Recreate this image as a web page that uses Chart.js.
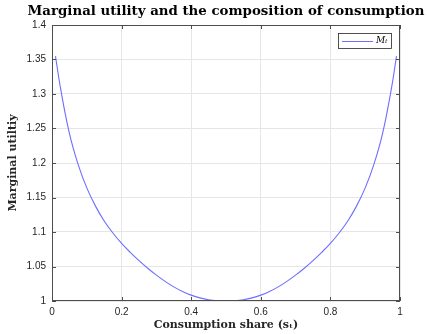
<!DOCTYPE html>
<html>
<head>
<meta charset="utf-8">
<script src="https://cdn.jsdelivr.net/npm/chart.js@4/dist/chart.umd.min.js"></script>
<style>
  html, body { margin: 0; padding: 0; background: #fff; }
  #wrap { width: 427px; height: 334px; }
</style>
</head>
<body>
<div id="wrap"><canvas id="myChart" width="427" height="334"></canvas></div>
<script>
const ctx = document.getElementById("myChart");

// consumption share s_t and marginal utility M_t
const shareVals = [0.01, 0.025, 0.05, 0.075, 0.1, 0.125, 0.15, 0.175, 0.2, 0.225, 0.25, 0.275, 0.3, 0.325,
                   0.35, 0.375, 0.4, 0.425, 0.45, 0.475, 0.5, 0.525, 0.55, 0.575, 0.6, 0.625, 0.65, 0.675,
                   0.7, 0.725, 0.75, 0.775, 0.8, 0.825, 0.85, 0.875, 0.9, 0.925, 0.95, 0.975, 0.99];
const muVals = [1.355, 1.307, 1.243, 1.198, 1.164, 1.1375, 1.116, 1.0985, 1.0835, 1.0705, 1.0585, 1.0475, 1.0375, 1.0285,
                1.0205, 1.0138, 1.0085, 1.0045, 1.0018, 1.0004, 1.0, 1.0004, 1.0018, 1.0045, 1.0085, 1.0138, 1.0205, 1.0285,
                1.0375, 1.0475, 1.0585, 1.0705, 1.0835, 1.0985, 1.116, 1.1375, 1.164, 1.198, 1.243, 1.307, 1.355];
const xTicks = [0, 0.2, 0.4, 0.6, 0.8, 1];
const yTicks = [1, 1.05, 1.1, 1.15, 1.2, 1.25, 1.3, 1.35, 1.4];

const chartTitle = "Marginal utility and the composition of consumption";
const seriesName = "Mₜ";

const points = shareVals.map((s, i) => ({ x: s, y: muVals[i] }));

// title, box, inward ticks and legend like the matlab figure
const matlabBits = {
  id: "matlabBits",
  afterDraw(chart) {
    const c = chart.ctx;
    const a = chart.chartArea;
    const xs = chart.scales.x;
    const ys = chart.scales.y;
    c.save();
    c.strokeStyle = "#4d4d4d";
    c.lineWidth = 1;
    c.strokeRect(a.left + 0.5, a.top + 0.5, a.right - a.left - 1, a.bottom - a.top - 1);
    c.beginPath();
    xTicks.forEach((v) => {
      const px = Math.round(xs.getPixelForValue(v)) + 0.5;
      c.moveTo(px, a.bottom); c.lineTo(px, a.bottom - 4);
      c.moveTo(px, a.top); c.lineTo(px, a.top + 4);
    });
    yTicks.forEach((v) => {
      const py = Math.round(ys.getPixelForValue(v)) + 0.5;
      c.moveTo(a.left, py); c.lineTo(a.left + 4, py);
      c.moveTo(a.right, py); c.lineTo(a.right - 4, py);
    });
    c.stroke();

    // title
    c.fillStyle = "#000";
    c.font = "bold 13px 'DejaVu Serif'";
    const w = c.measureText(chartTitle).width;
    const size = 13 * 397 / w;
    c.font = "bold " + size.toFixed(2) + "px 'DejaVu Serif'";
    c.textAlign = "center";
    c.textBaseline = "middle";
    c.fillText(chartTitle, (a.left + a.right) / 2, 12);

    // legend
    c.fillStyle = "#fff";
    c.fillRect(338, 33, 54, 16);
    c.strokeStyle = "#262626";
    c.lineWidth = 0.8;
    c.strokeRect(338.5, 33.5, 53, 15);
    c.strokeStyle = "#6e6eff";
    c.lineWidth = 1;
    c.beginPath();
    c.moveTo(342, 41.5); c.lineTo(373, 41.5);
    c.stroke();
    c.fillStyle = "#000";
    c.font = "italic 9px 'DejaVu Serif'";
    c.textAlign = "left";
    c.fillText(seriesName, 376, 41);
    c.restore();
  },
};

new Chart(ctx, {
  type: "line",
  data: {
    datasets: [
      {
        label: seriesName,
        data: points,
        borderColor: "#6e6eff",
        borderWidth: 1.1,
        pointRadius: 0,
        fill: false,
        tension: 0.4,
      },
    ],
  },
  options: {
    responsive: false,
    animation: false,
    layout: { padding: { left: 0, right: 27, top: 25, bottom: 0 } },
    plugins: {
      legend: { display: false },
      tooltip: { enabled: false },
    },
    scales: {
      x: {
        type: "linear",
        min: 0,
        max: 1,
        afterBuildTicks: (s) => { s.ticks = xTicks.map((v) => ({ value: v })); },
        afterFit: (s) => { s.height = 33; },
        grid: { color: "#e6e6e6", drawTicks: false },
        border: { display: false },
        ticks: {
          padding: 5,
          color: "#262626",
          font: { family: "'Liberation Sans'", size: 10 },
          callback: (v) => String(v),
        },
        title: {
          display: true,
          text: "Consumption share (sₜ)",
          color: "#262626",
          font: { family: "'DejaVu Serif'", size: 11, weight: "bold" },
          padding: { top: 0, bottom: 2 },
        },
      },
      y: {
        min: 1,
        max: 1.4,
        afterBuildTicks: (s) => { s.ticks = yTicks.map((v) => ({ value: v })); },
        afterFit: (s) => { s.width = 52; },
        grid: { color: "#e6e6e6", drawTicks: false },
        border: { display: false },
        ticks: {
          padding: 6,
          color: "#262626",
          font: { family: "'Liberation Sans'", size: 10 },
          callback: (v) => String(v),
        },
        title: {
          display: true,
          text: "Marginal utiltiy",
          color: "#262626",
          font: { family: "'DejaVu Serif'", size: 11, weight: "bold" },
          padding: { top: 7, bottom: 0 },
        },
      },
    },
  },
  plugins: [matlabBits],
});
</script>
</body>
</html>
